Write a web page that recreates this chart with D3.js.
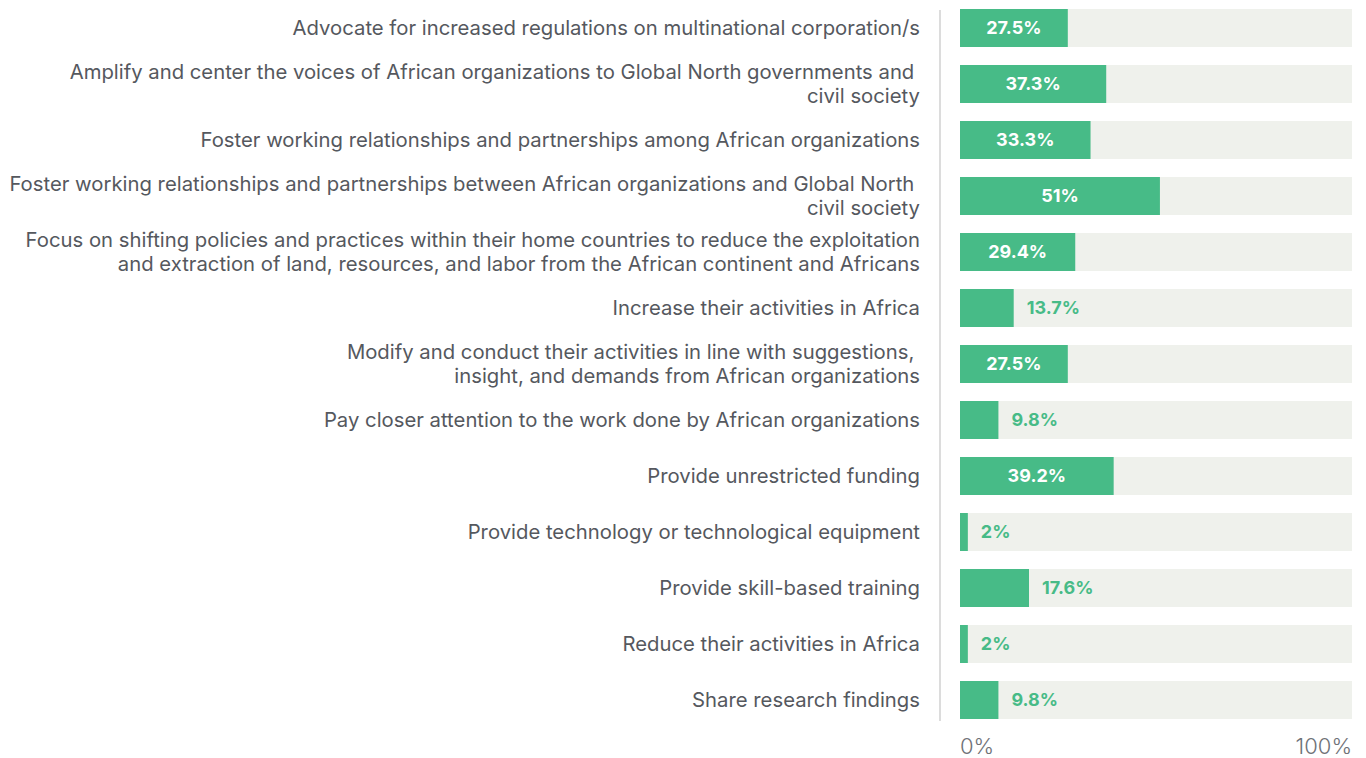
<!DOCTYPE html>
<html>
<head>
<meta charset="utf-8">
<script src="https://cdn.jsdelivr.net/npm/d3@7"></script>
<style>
  body { margin: 0; background: #fff; }
  svg { display: block; font-family: Inter, "Noto Sans", sans-serif; }
</style>
</head>
<body>
<div id="chart"></div>
<script>
// Kategorien (Zeilenumbrueche wie im Original)
const categories = [
    "Advocate for increased regulations on multinational corporation/s",
    "Amplify and center the voices of African organizations to Global North governments and \ncivil society",
    "Foster working relationships and partnerships among African organizations",
    "Foster working relationships and partnerships between African organizations and Global North \ncivil society",
    "Focus on shifting policies and practices within their home countries to reduce the exploitation\nand extraction of land, resources, and labor from the African continent and Africans",
    "Increase their activities in Africa",
    "Modify and conduct their activities in line with suggestions, \ninsight, and demands from African organizations",
    "Pay closer attention to the work done by African organizations",
    "Provide unrestricted funding",
    "Provide technology or technological equipment",
    "Provide skill-based training",
    "Reduce their activities in Africa",
    "Share research findings"
];
const values = [27.5, 37.3, 33.3, 51, 29.4, 13.7, 27.5, 9.8, 39.2, 2, 17.6, 2, 9.8];
const tickLabels = ["0%", "100%"];

const width = 1366;
const height = 758;
const margin = { top: 9, left: 960, right: 14 };
const rowStep = 56;
const barGap = 18;

const svg = d3.select("#chart")
    .append("svg")
    .attr("width", width)
    .attr("height", height);

const x = d3.scaleLinear()
    .domain([0, 100])
    .range([margin.left, width - margin.right]);

const y = d3.scaleBand()
    .domain(d3.range(categories.length))
    .range([margin.top, margin.top + rowStep * categories.length - barGap])
    .paddingInner(barGap / rowStep)
    .paddingOuter(0);

const green = "#47bb87";

// vertikale Trennlinie
svg.append("line")
    .attr("x1", 940).attr("x2", 940)
    .attr("y1", 10).attr("y2", 721)
    .attr("stroke", "#dcdcdc")
    .attr("stroke-width", 2);

const rows = svg.selectAll(".row")
    .data(values)
    .enter()
    .append("g")
    .attr("class", "row");

// Hintergrund-Spur
rows.append("rect")
    .attr("x", x(0))
    .attr("y", (d, i) => y(i))
    .attr("width", x(100) - x(0))
    .attr("height", y.bandwidth())
    .attr("fill", "#eff1ec");

rows.append("rect")
    .attr("x", x(0))
    .attr("y", (d, i) => y(i))
    .attr("width", d => x(d) - x(0))
    .attr("height", y.bandwidth())
    .attr("fill", green);

// Werte: innen (weiss) oder aussen (gruen)
rows.append("text")
    .attr("x", d => d >= 25 ? (x(0) + x(d)) / 2 : x(d) + 13)
    .attr("y", (d, i) => y(i) + y.bandwidth() / 2)
    .attr("dy", "0.35em")
    .attr("text-anchor", d => d >= 25 ? "middle" : "start")
    .attr("fill", d => d >= 25 ? "#fff" : green)
    .style("font-size", "18px")
    .style("font-weight", "bold")
    .text(d => d + "%");

// Beschriftungen links
rows.append("text")
    .attr("text-anchor", "end")
    .attr("fill", "#55585e")
    .style("font-size", "20.3px")
    .style("white-space", "pre")
    .each(function(d, i) {
        const lines = categories[i].split("\n");
        const cy = y(i) + y.bandwidth() / 2;
        const lh = 24;
        const t = d3.select(this);
        lines.forEach((line, k) => {
            t.append("tspan")
                .attr("x", 920)
                .attr("y", cy + (k - (lines.length - 1) / 2) * lh)
                .attr("dy", "0.35em")
                .text(line);
        });
    });

// Achsenbeschriftung
svg.selectAll(".tick-label")
    .data(tickLabels)
    .enter()
    .append("text")
    .attr("class", "tick-label")
    .attr("x", (d, i) => i === 0 ? x(0) : x(100))
    .attr("y", 746)
    .attr("dy", "0.35em")
    .attr("text-anchor", (d, i) => i === 0 ? "start" : "end")
    .attr("fill", "#6f7277")
    .style("font-size", "22px")
    .style("font-weight", "300")
    .text(d => d);
</script>
</body>
</html>
